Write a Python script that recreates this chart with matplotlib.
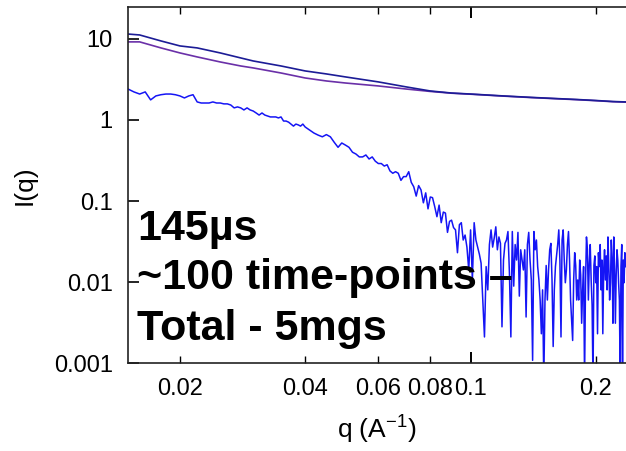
import numpy as np
import matplotlib
matplotlib.use("Agg")
import matplotlib.pyplot as plt
from matplotlib.ticker import FixedLocator, FixedFormatter, NullFormatter

plt.rcParams["font.family"] = ["Liberation Sans", "DejaVu Sans"]
plt.rcParams["mathtext.fontset"] = "custom"
plt.rcParams["mathtext.rm"] = "Liberation Sans"
plt.rcParams["mathtext.it"] = "Liberation Sans"

# two averaged curves (navy = first, purple = second)
q_smooth = [0.015, 0.016, 0.018, 0.020, 0.022, 0.025, 0.028, 0.030, 0.035, 0.040,
            0.045, 0.050, 0.060, 0.070, 0.080, 0.090, 0.100, 0.120, 0.140, 0.160,
            0.180, 0.200, 0.220, 0.236]
i_navy = [11.5, 11.2, 9.45, 8.2, 7.75, 6.72, 5.83, 5.35, 4.64, 4.03,
          3.70, 3.40, 2.95, 2.56, 2.28, 2.15, 2.09, 1.98, 1.90, 1.84,
          1.79, 1.74, 1.69, 1.67]
i_purple = [9.2, 9.2, 7.75, 6.72, 6.0, 5.2, 4.64, 4.39, 3.80, 3.30,
            3.03, 2.86, 2.63, 2.41, 2.25, 2.14, 2.08, 1.97, 1.89, 1.83,
            1.78, 1.73, 1.68, 1.66]

# single 145 us frame, low q part (q step 0.0005 from 0.015 to 0.040)
q_low = np.arange(30, 81) / 2000
i_low = [2.41, 2.22, 2.09, 2.22, 1.77, 1.98, 2.05, 2.09, 2.09, 2.05,
         1.98, 1.87, 1.98, 2.05, 1.67, 1.62, 1.62, 1.62, 1.67, 1.62,
         1.62, 1.58, 1.58, 1.53, 1.41, 1.45, 1.41, 1.33, 1.41, 1.33,
         1.29, 1.22, 1.15, 1.22, 1.15, 1.12, 1.09, 1.09, 1.09, 1.06,
         1.09, 0.97, 0.97, 0.94, 0.89, 0.84, 0.89, 0.87, 0.84, 0.89,
         0.82]

# single frame, high q part (q step 0.001 from 0.041 to 0.236)
q_high = np.arange(41, 237) / 1000
i_high = [0.75, 0.69, 0.65, 0.62, 0.66, 0.62, 0.53, 0.46, 0.52, 0.49,
          0.46, 0.40, 0.38, 0.35, 0.35, 0.37, 0.33, 0.35, 0.31, 0.29,
          0.29, 0.27, 0.28, 0.235, 0.22, 0.23, 0.22, 0.18, 0.20, 0.20,
          0.23, 0.17, 0.15, 0.115, 0.155, 0.137, 0.095, 0.126, 0.08, 0.112,
          0.11, 0.085, 0.064, 0.089, 0.054, 0.073, 0.071, 0.041, 0.056, 0.058,
          0.047, 0.044, 0.023, 0.051, 0.054, 0.033, 0.038, 0.027, 0.0141, 0.044,
          0.0106, 0.054, 0.033, 0.027, 0.022, 0.0171, 0.006, 0.0021, 0.0155, 0.008,
          0.029, 0.044, 0.027, 0.035, 0.048, 0.025, 0.036, 0.030, 0.0028, 0.0187,
          0.030, 0.033, 0.042, 0.0131, 0.0021, 0.042, 0.0089, 0.029, 0.0187, 0.041,
          0.0067, 0.025, 0.0187, 0.0141, 0.025, 0.0037, 0.029, 0.041, 0.0187, 0.0106,
          0.00108, 0.042, 0.025, 0.033, 0.0155, 0.0106, 0.006, 0.0023, 0.008, 0.0006,
          0.006, 0.016, 0.006, 0.0141, 0.025, 0.030, 0.0106, 0.0016, 0.008, 0.0155,
          0.021, 0.029, 0.044, 0.0187, 0.0021, 0.033, 0.044, 0.0187, 0.0098, 0.0141,
          0.029, 0.042, 0.0187, 0.006, 0.0034, 0.0019, 0.0106, 0.023, 0.016, 0.006,
          0.0106, 0.006, 0.0187, 0.0122, 0.0031, 0.008, 0.0155, 0.0006, 0.0098, 0.036,
          0.025, 0.006, 0.0171, 0.029, 0.0106, 0.0052, 0.0006, 0.016, 0.021, 0.0098,
          0.0155, 0.0023, 0.023, 0.0155, 0.029, 0.008, 0.0187, 0.0023, 0.0141, 0.025,
          0.0106, 0.021, 0.008, 0.036, 0.016, 0.006, 0.0098, 0.033, 0.0187, 0.0031,
          0.036, 0.0141, 0.0031, 0.0122, 0.025, 0.0187, 0.0098, 0.006, 0.0006, 0.0155,
          0.029, 0.0006, 0.0187, 0.0098, 0.023, 0.0155]

q_frame = np.concatenate([q_low, q_high])
i_frame = np.array(i_low + i_high)

x_ticks = [0.02, 0.04, 0.06, 0.08, 0.2]
x_tick_labels = ["0.02", "0.04", "0.06", "0.08", "0.2"]
y_ticks = [0.001, 0.01, 0.1, 1, 10]
y_tick_labels = ["0.001", "0.01", "0.1", "1", "10"]

notes = ["145µs", "~100 time-points \u2013", "Total - 5mgs"]

fig = plt.figure(figsize=(6.26, 4.51), dpi=100)
ax = fig.add_axes([0.2045, 0.195, 0.7955, 0.7895])

ax.plot(q_frame, i_frame, color="#1515f5", linewidth=1.1)
ax.plot(q_smooth, i_purple, color="#6a30a8", linewidth=1.2)
ax.plot(q_smooth, i_navy, color="#1c1c96", linewidth=1.2)

ax.set_xscale("log")
ax.set_yscale("log")
ax.set_xlim(0.015, 0.2365)
ax.set_ylim(0.001, 24.8)

# x axis: 0.1 is the long (major) tick, the rest are short
ax.xaxis.set_major_locator(FixedLocator([0.1]))
ax.xaxis.set_major_formatter(FixedFormatter(["0.1"]))
ax.xaxis.set_minor_locator(FixedLocator(x_ticks))
ax.xaxis.set_minor_formatter(FixedFormatter(x_tick_labels))
ax.yaxis.set_major_locator(FixedLocator(y_ticks))
ax.yaxis.set_major_formatter(FixedFormatter(y_tick_labels))
ax.yaxis.set_minor_formatter(NullFormatter())
ax.yaxis.set_minor_locator(FixedLocator([]))

ax.tick_params(axis="x", which="major", direction="in", length=8, width=1.4,
               top=True, labelsize=17, pad=11)
ax.tick_params(axis="x", which="minor", direction="in", length=5, width=1.0,
               top=True, labelsize=17, pad=11)
ax.tick_params(axis="y", which="major", direction="in", length=8, width=1.2,
               right=False, labelsize=17, pad=11)

ax.spines["right"].set_visible(False)
for s in ["left", "bottom", "top"]:
    ax.spines[s].set_linewidth(1.2)
    ax.spines[s].set_color("#222222")

ax.set_xlabel(r"q (A$^{-1}$)", fontsize=19, labelpad=10)
ax.set_ylabel("I(q)", fontsize=19, labelpad=12)

for note, y in zip(notes, [0.3455, 0.208, 0.0646]):
    ax.text(0.018, y, note, transform=ax.transAxes, fontsize=31,
            fontweight="bold", va="baseline", ha="left")

fig.savefig("out.png", dpi=100)
